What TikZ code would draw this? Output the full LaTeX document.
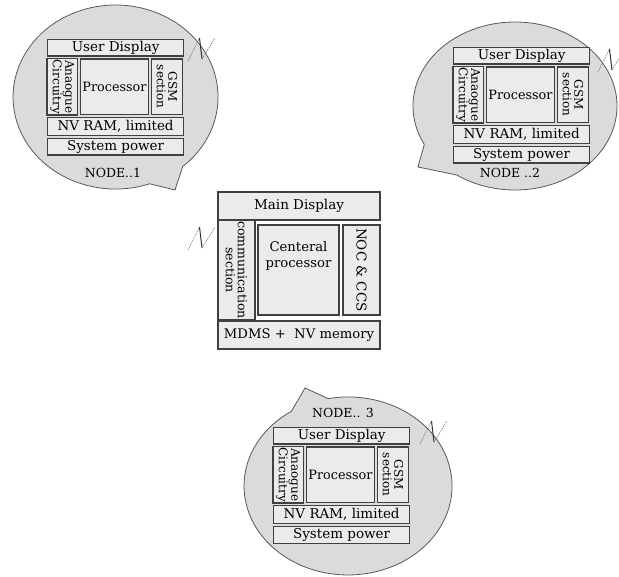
\documentclass[tikz,border=0pt]{standalone}
\usepackage{fontspec}
\setmainfont{DejaVu Serif}
\usetikzlibrary{positioning}

\begin{document}
\begin{tikzpicture}[
    x=1pt, y=-1pt,
    box/.style={draw=black!75, line width=1.3pt, fill=black!8, inner sep=1pt, font=\fontsize{13.5}{14}\selectfont},
    side/.style={box, rotate=-90, align=center, font=\fontsize{12}{11.5}\selectfont},
    bubble/.style={draw=black!65, line width=0.8pt, fill=black!14},
    tag/.style={font=\fontsize{12.5}{13}\selectfont},
    aerial/.style={draw=black!55, line width=0.6pt, dash pattern=on 1.5pt off 1pt},
    mast/.style={draw=black!80, line width=1pt}
  ]
  \useasboundingbox (0,0) rectangle (619,577);

  % --- Speech bubbles round the nodes ---
  \draw[bubble] (149.6,183.8) arc[start angle=70.6, end angle=409, x radius=102.5, y radius=92]
    -- (175,190) -- cycle;
  \draw[bubble] (424.3,144.4) arc[start angle=152.8, end angle=484.7, x radius=102, y radius=84]
    -- (418,167) -- cycle;
  \draw[bubble] (328.2,398.6) arc[start angle=259, end angle=597, x radius=104, y radius=89]
    -- (305,388) -- cycle;

  % --- Remote nodes: same block layout ---
  \foreach \n/\bx/\by/\lx/\ly/\txt in {1/47/39/113/173/{NODE..1},
                                       2/453/47/510/173/{NODE ..2},
                                       3/273/427/343/413/{NODE.. 3}} {
    \node[box, anchor=north west, minimum width=136pt, minimum height=16.5pt] (ud\n) at (\bx,\by) {User Display};
    \node[side, minimum width=55.5pt, minimum height=30.5pt] (an\n) at (\bx+15.25,\by+47.75) {Anaogue\\Circuitry};
    \node[box, minimum width=68pt, minimum height=55.5pt, font=\fontsize{12.8}{13}\selectfont] (pr\n) at (\bx+67.5,\by+47.75) {Processor};
    \node[side, minimum width=55.5pt, minimum height=31pt] (gsm\n) at (\bx+120,\by+47.75) {GSM\\section};
    \node[box, anchor=north west, minimum width=136pt, minimum height=18pt] (nv\n) at (\bx,\by+78) {NV RAM, limited};
    \node[box, anchor=north west, minimum width=136pt, minimum height=16.5pt] (sp\n) at (\bx,\by+99) {System power};
    \node[tag] (lab\n) at (\lx,\ly) {\txt};
  }

  % --- Central station ---
  \node[box, minimum width=162pt, minimum height=28pt] (md) at (299,206) {Main Display};
  \node[side, minimum width=90pt, minimum height=37pt, font=\fontsize{12.5}{12}\selectfont] (cs) at (236.5,270) {communication\\section};
  \node[box, minimum width=81pt, minimum height=90pt] (cp) at (298.5,270) {};
  \node[below=17pt of cp.north, align=center, font=\fontsize{13.2}{15.5}\selectfont, inner sep=0pt] (cptext) {Centeral\\processor};
  \node[side, minimum width=90pt, minimum height=37pt, font=\fontsize{13.5}{14}\selectfont] (noc) at (361.5,270) {NOC \& CCS};
  \node[box, minimum width=162pt, minimum height=28pt, font=\fontsize{13.2}{14}\selectfont] (mdms) at (299,335) {MDMS +\ \ NV memory};

  % --- Radio links ---
  \foreach \a/\ax/\ay in {n1/188/61, n2/598/72, cc/188/250, n3/420/444} {
    \coordinate (\a p) at (\ax,\ay);
    \coordinate (\a q) at (\ax+11.5,\ay-23);
    \coordinate (\a r) at (\ax+14,\ay-2);
    \coordinate (\a s) at (\ax+27,\ay-23);
    \draw[aerial] (\a p) -- (\a q);
    \draw[mast] (\a q) -- (\a r);
    \draw[aerial] (\a r) -- (\a s);
  }

\end{tikzpicture}
\end{document}
